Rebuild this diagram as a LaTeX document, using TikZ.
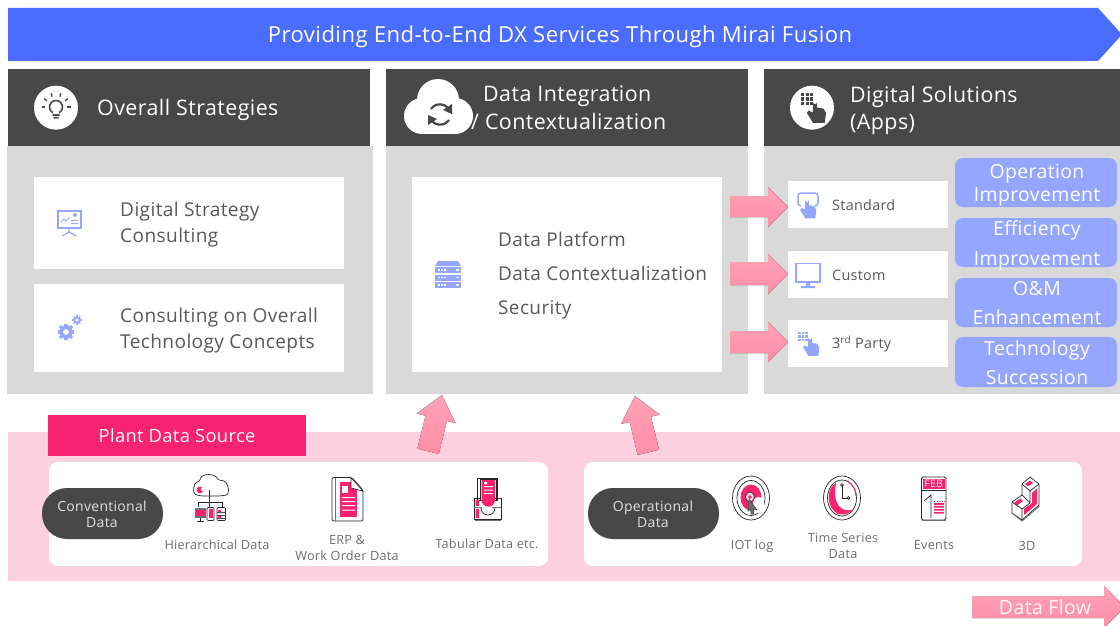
\documentclass[tikz,border=0pt]{standalone}
\usepackage{fontspec}
\setmainfont{Open Sans}[LetterSpace=2]
\usepackage{xcolor}
\definecolor{dxblue}{HTML}{4A6CFF}
\definecolor{softblue}{HTML}{94A6FF}
\definecolor{hdrgray}{HTML}{484848}
\definecolor{panelgray}{HTML}{D9D9D9}
\definecolor{bandpink}{HTML}{FCD0DE}
\definecolor{hotpink}{HTML}{F72270}
\definecolor{flowtop}{HTML}{FFA3B7}
\definecolor{flowbot}{HTML}{FF8DA7}
\definecolor{txtgray}{HTML}{595959}
\definecolor{capgray}{HTML}{6E6E6E}
\tikzset{
	hdrtext/.style={text=white, font=\fontsize{21.4}{27}\selectfont, align=left, inner sep=0pt, anchor=west},
	cardtext/.style={text=txtgray, font=\fontsize{19.1}{26}\selectfont, align=left, inner sep=0pt, anchor=west},
	apptext/.style={text=txtgray, font=\fontsize{14.4}{16}\selectfont, inner sep=0pt, anchor=west},
	valtext/.style={text=white, font=\fontsize{19.4}{#1}\selectfont, align=center, inner sep=0pt},
	pilltext/.style={text=white!88!black, font=\fontsize{14}{16}\selectfont, align=center, inner sep=0pt},
	captext/.style={text=capgray, font=\fontsize{12.7}{16}\selectfont, align=center, inner sep=0pt},
	flow/.style={top color=flowtop, bottom color=flowbot},
	ink/.style={draw=black!85, line width=0.7pt, fill=white},
	hand/.pic={
		\fill (-1.6,-8) -- (-1.6,0) -- (-5,-1.5) -- (-6.2,0.5) -- (-1.5,8) -- (7.5,8) -- (8.5,0.5) -- (6.5,-3) -- (1.6,-3.8) -- (1.6,-8) arc[start angle=0, end angle=180, radius=1.6] -- cycle;
	},
	gear/.pic={
		\foreach \a in {0,45,135} {\fill[rotate=\a] (-0.24*#1,-1.3*#1) rectangle (0.24*#1,1.3*#1);}
		\fill[rotate=90] (-0.24*#1,-1.3*#1) rectangle (0.24*#1,1.3*#1);
		\fill (0,0) circle[radius=#1];
		\fill[white] (0,0) circle[radius=0.45*#1];
	},
}
\begin{document}
\begin{tikzpicture}[x=1pt,y=-1pt]
	\useasboundingbox (0,0) rectangle (1120,626);
	\clip (0,0) rectangle (1120,626);
	\fill[white] (0,0) rectangle (1120,626);
	\fill[dxblue] (8,8) -- (1098,8) -- (1122,34.5) -- (1098,61) -- (8,61) -- cycle;
	\node (title) [text=white, font=\fontsize{22.1}{26}\selectfont, inner sep=0pt] at (560,36.5) {Providing End-to-End DX Services Through Mirai Fusion};

	\fill[panelgray] (7,146) rectangle (373,394);
	\fill[panelgray] (386,146) rectangle (748,394);
	\fill[panelgray] (764,146) rectangle (1120,394);
	\fill[hdrgray] (8,69) rectangle (370,146);
	\fill[hdrgray] (386,69) rectangle (748,146);
	\fill[hdrgray] (764,69) rectangle (1120,146);

	\fill[white] (34,177) rectangle (344,269);
	\fill[white] (34,284) rectangle (344,372);
	\fill[white] (412,177) rectangle (722,372);
	\fill[white] (788,181) rectangle (948,228);
	\fill[white] (788,251) rectangle (948,298);
	\fill[white] (788,320) rectangle (948,367);

	\fill[white] (56,107.7) circle[radius=22];
	\draw[hdrgray, line width=1.6pt] (56,107) circle[radius=6.5];
	\fill[hdrgray] (52.5,114) rectangle (59.5,116) (53.5,117) rectangle (58.5,118.5);
	\fill[white] (52.8,111) rectangle (59.2,114);
	\foreach \a in {0,35,70,110,145,180} {\draw[hdrgray, line width=1.4pt] (56,107)++(\a+180:11) -- ++(\a+180:3.5);}
	\node (hdrstrategy) [hdrtext] at (97,109.5) {Overall Strategies};

	\fill[white] (438,100) circle[radius=21];
	\fill[white] (422,116) circle[radius=18];
	\fill[white] (455,116) circle[radius=18];
	\fill[white] (422,112) rectangle (455,134);
	\draw[hdrgray, line width=2.2pt] (431,109) arc[start angle=215, end angle=320, radius=11];
	\draw[hdrgray, line width=2.2pt] (449,120) arc[start angle=35, end angle=140, radius=11];
	\fill[hdrgray] (452,104) -- (452,114) -- (443,110) -- cycle;
	\fill[hdrgray] (428,125) -- (428,115) -- (437,119) -- cycle;
	\node (hdrdata) [hdrtext] at (483,96.5) {Data Integration};
	\node (hdrcontext) [hdrtext] at (471,121.5) {/ Contextualization};

	\fill[white] (812,107.7) circle[radius=22];
	\foreach \i in {0,1,2} \foreach \j in {0,1,2} {\fill[hdrgray] (801+4.5*\i,93+4.5*\j) rectangle ++(3.4,3.4);}
	\pic[hdrgray, scale=1.3] at (815,112.5) {hand};
	\node (hdrapps) [hdrtext] at (850,110.5) {Digital Solutions\\(Apps)};

	\draw[softblue, line width=1.5pt] (58,211) rectangle (81,228);
	\draw[softblue, line width=1.2pt] (69,228) -- (69,232) (62,236) -- (69,232) -- (76,236);
	\draw[softblue, line width=1pt] (61,222) -- (64,219) -- (66,221) -- (70,217);
	\fill[softblue] (75,215) circle[radius=2];
	\fill[softblue] (71,220) rectangle (78,221) (71,223) rectangle (78,224);
	\node (cardstrategy) [cardtext] at (120,225) {Digital Strategy\\Consulting};

	\pic[softblue] at (66,332) {gear=6.5};
	\pic[softblue] at (77,320) {gear=3.6};
	\node (cardconcept) [cardtext] at (120,331) {Consulting on Overall\\Technology Concepts};

	\fill[softblue] (438,261) -- (458,261) -- (461,266) -- (435,266) -- cycle;
	\foreach \y in {267,274.5,282} {
		\fill[softblue] (435,\y) rectangle (461,\y+6);
		\foreach \x in {438,441,444} {\fill[white] (\x,\y+2.3) rectangle ++(1.6,1.4);}
		\fill[white] (456,\y+2.3) rectangle ++(3,1.4);
	}
	\node (cardplatform) [cardtext, font=\fontsize{19}{34}\selectfont] at (498,276) {Data Platform\\Data Contextualization\\Security};

	\fill[flow] (730,196) -- (768,196) -- (768,187) -- (788,207) -- (768,227) -- (768,217) -- (730,217) -- cycle;
	\fill[flow] (730,262) -- (768,262) -- (768,254) -- (788,274) -- (768,294) -- (768,285) -- (730,285) -- cycle;
	\fill[flow] (730,331) -- (768,331) -- (768,322) -- (788,342) -- (768,362) -- (768,353) -- (730,353) -- cycle;

	\draw[softblue, line width=1.5pt, rounded corners=3pt] (801,206) -- (798,206) -- (798,193) -- (818,193) -- (818,206) -- (815,206);
	\pic[softblue, scale=1.1] at (807,209.5) {hand};
	\node (appstandard) [apptext] at (832,205) {Standard};

	\draw[softblue, line width=1.5pt] (796,263.5) rectangle (820,282);
	\fill[softblue] (806,282) rectangle (810,286) (801,286) rectangle (815,288);
	\node (appcustom) [apptext] at (832,275) {Custom};

	\foreach \i in {0,1,2} \foreach \j in {0,1,2} {\fill[softblue] (798+3.6*\i,331.5+3.6*\j) rectangle ++(2.7,2.7);}
	\pic[softblue, scale=1.1] at (810,347) {hand};
	\node (appparty) [apptext] at (832,344) {3\textsuperscript{rd} Party};

	\fill[softblue, rounded corners=8pt] (955,158) rectangle (1117,207);
	\fill[softblue, rounded corners=8pt] (955,218) rectangle (1117,267);
	\fill[softblue, rounded corners=8pt] (955,278) rectangle (1117,327);
	\fill[softblue, rounded corners=8pt] (955,337) rectangle (1117,387);
	\node (valoperation) [valtext=23] at (1037,185) {Operation\\Improvement};
	\node (valefficiency) [valtext=30] at (1037,245.5) {Efficiency\\Improvement};
	\node (valenhance) [valtext=29] at (1037,303.5) {O\&M\\Enhancement};
	\node (valsuccession) [valtext=29] at (1037,363) {Technology\\Succession};

	\fill[bandpink] (8,432) rectangle (1120,581);
	\fill[hotpink] (48,415) rectangle (306,456);
	\node (plantsource) [text=white!90!pink, font=\fontsize{18.3}{20}\selectfont, inner sep=0pt] at (177,436) {Plant Data Source};

	\fill[flow] (417.4,448.7) -- (425.5,415.7) -- (416.8,413.5) -- (442,395) -- (455.6,423.1) -- (446.9,420.9) -- (438.8,453.9) -- cycle;
	\fill[flow] (659,449.7) -- (651,416.7) -- (659.7,414.5) -- (635,396) -- (620.9,424.1) -- (629.6,421.9) -- (637.7,454.9) -- cycle;

	\fill[white, rounded corners=9pt] (49,462) rectangle (548,566);
	\fill[white, rounded corners=9pt] (584,462) rectangle (1082,566);
	\fill[hdrgray, rounded corners=25pt] (42,488) rectangle (163,539);
	\fill[hdrgray, rounded corners=25pt] (588,488) rectangle (719,539);
	\node (pillconv) [pilltext] at (102,514.5) {Conventional\\Data};
	\node (pilloper) [pilltext] at (653,514.5) {Operational\\Data};

	\draw[ink, rounded corners=4pt] (199,496) .. controls (192,493) and (194,483) .. (200,482) .. controls (202,473) and (215,474) .. (218,481) .. controls (228,480) and (231,494) .. (222,496) -- cycle;
	\fill[hotpink] (200,490) circle[radius=3.4];
	\fill[white] (201,488) rectangle (203,491);
	\draw[ink] (209,490) -- (209,507) (198,507) -- (198,502) -- (222,502) -- (222,507);
	\fill[capgray] (195,508) rectangle (206,518);
	\fill[hotpink] (196,509.5) rectangle (205,516);
	\draw[ink, fill=none] (197,521) -- (204,521) (200.5,518) -- (200.5,521);
	\draw[ink, fill=none, rounded corners=1pt] (207,507.5) rectangle (214,520.5);
	\fill[hotpink] (208.5,509) rectangle (212.5,518);
	\draw[ink, rounded corners=1pt] (217,507.5) rectangle (225.5,520.5);
	\fill[hotpink] (218,510) rectangle (221,513) (218,515.5) rectangle (221,518.5);
	\draw[black!70, line width=0.6pt] (217,512) -- (225.5,512) (217,515) -- (225.5,515) (217,518) -- (225.5,518);
	\node (caphier) [captext] at (217,544.5) {Hierarchical Data};

	\draw[ink, rounded corners=2pt] (332,477.5) -- (352,477.5) -- (363,490) -- (363,521) -- (332,521) -- cycle;
	\draw[capgray, line width=1pt] (335.5,477.5) -- (335.5,521);
	\fill[hotpink] (339.5,482) rectangle (357,516.5);
	\fill[white] (342,486) rectangle (347.5,493);
	\fill[white] (342,497) rectangle (355,498) (342,501) rectangle (355,502) (342,505) rectangle (355,506) (342,509.5) rectangle (355,510.5);
	\draw[ink] (351,477.5) -- (351,488) -- (363,491) -- cycle;
	\node (caperp) [captext] at (347,548) {ERP \&\\Work Order Data};

	\draw[ink] (477,478) rectangle (497,500);
	\draw[ink] (480,479) rectangle (496,500);
	\fill[hotpink] (481.5,480) -- (495,480) -- (495,500) arc[start angle=0, end angle=180, radius=6.7] -- cycle;
	\fill[white] (484,482) rectangle (487,484) (484,486) rectangle (493,487) (484,489.5) rectangle (493,490.5) (484,493) rectangle (493,494);
	\draw[ink, fill=none, line width=0.8pt] (474,498) -- (481,498) (495,498) -- (501,498) -- (501,519) -- (474,519) -- (474,498);
	\draw[capgray, line width=1pt] (474,507) -- (482,507) (492,507) -- (501,507);
	\draw[black!85, line width=0.7pt] (481,508) arc[start angle=180, end angle=0, radius=7];
	\fill[hotpink] (475.5,499.5) rectangle (479,506) (475.5,509) rectangle (479,518);
	\draw[capgray, line width=1pt] (475,520) -- (501,520);
	\node (captab) [captext] at (487,544) {Tabular Data etc.};

	\draw[ink] (751,498) ellipse[x radius=18.5, y radius=22];
	\draw[ink] (751,498) ellipse[x radius=14, y radius=17.5];
	\fill[hotpink] (751,497.5) ellipse[x radius=10.5, y radius=13];
	\fill[white] (758.5,505) ellipse[x radius=6, y radius=8];
	\draw[ink, fill=white!80!hotpink] (750,497) ellipse[x radius=4.5, y radius=5];
	\fill[hotpink] (750,497) circle[radius=1.8];
	\draw[black!75, fill=capgray, line width=0.5pt] (749,499) -- (757,510) -- (753.5,509) -- (754,514) -- (751,514) -- (750.5,509) -- (748,511) -- cycle;
	\node (capiot) [captext] at (752,546) {IOT log};

	\draw[ink] (842,498) ellipse[x radius=18.5, y radius=22];
	\draw[ink] (842,498) ellipse[x radius=14.5, y radius=18];
	\fill[hotpink] (836,483) .. controls (826,488) and (826,508) .. (838,514) .. controls (846,516) and (851,512) .. (852,510) .. controls (842,512) and (832,506) .. (836,483) -- cycle;
	\draw[hotpink, line width=1pt] (847,481) .. controls (853,484) and (856,490) .. (856,496);
	\draw[black!85, line width=0.7pt] (842,486) -- (842,498) -- (847,498);
	\draw[ink] (842,485) circle[radius=1.4];
	\draw[ink] (848.5,498) circle[radius=1.4];
	\node (captime) [captext] at (843,546) {Time Series\\Data};

	\draw[ink, rounded corners=1.5pt, line width=0.8pt] (921.5,477) rectangle (946,520);
	\fill[hotpink] (923,478.5) rectangle (944.5,489);
	\draw[black!85, line width=0.7pt] (921.5,490.5) -- (946,490.5);
	\draw[capgray, line width=0.7pt] (922,520.5) -- (946,520.5);
	\node (calfeb) [text=white, font=\fontsize{10.5}{10}\selectfont, inner sep=0pt] at (933.7,484) {FEB};
	\draw[black!85, line width=0.7pt] (924,501) -- (931,495) -- (931,518);
	\fill[hotpink] (934,503) rectangle (944,505) (934,506) rectangle (944,507.5) (934,509) rectangle (944,510.5) (934,512) rectangle (944,513.5);
	\foreach \x in {934,936.5,939,941.5,943.5} {\fill[hotpink] (\x,501) rectangle ++(1,1);}
	\node (capevents) [captext] at (934,545.5) {Events};

	\draw[ink, line join=round] (1030,477) -- (1039,484) -- (1039,505) -- (1022,520) -- (1012,513) -- (1012,502) -- (1022,495) -- (1022,484) -- cycle;
	\draw[capgray, line width=1pt] (1012,513) -- (1022,521) -- (1039.5,506);
	\fill[hotpink] (1025,484) -- (1030,480.5) -- (1033,483) -- (1028,486.5) -- cycle;
	\fill[hotpink] (1014,503) -- (1020,498.5) -- (1023,501) -- (1017,505.5) -- cycle;
	\fill[hotpink] (1032,493) -- (1037,488.5) -- (1037,504) -- (1024,515) -- (1024,509) -- (1032,503) -- cycle;
	\draw[black!85, line width=0.7pt, line join=round] (1022,484) -- (1030,491) -- (1039,484) (1030,491) -- (1030,503) -- (1022,509) -- (1012,502) (1022,495) -- (1030,503) (1022,509) -- (1022,520);
	\node (cap3d) [captext] at (1027,546) {3D};

	\fill[flow] (972,596) -- (1104,596) -- (1104,586) -- (1125,607) -- (1104,628) -- (1104,618) -- (972,618) -- cycle;
	\node (dataflow) [text=white!88!pink, font=\fontsize{19.5}{20}\selectfont, inner sep=0pt] at (1045,607.5) {Data Flow};
\end{tikzpicture}
\end{document}
